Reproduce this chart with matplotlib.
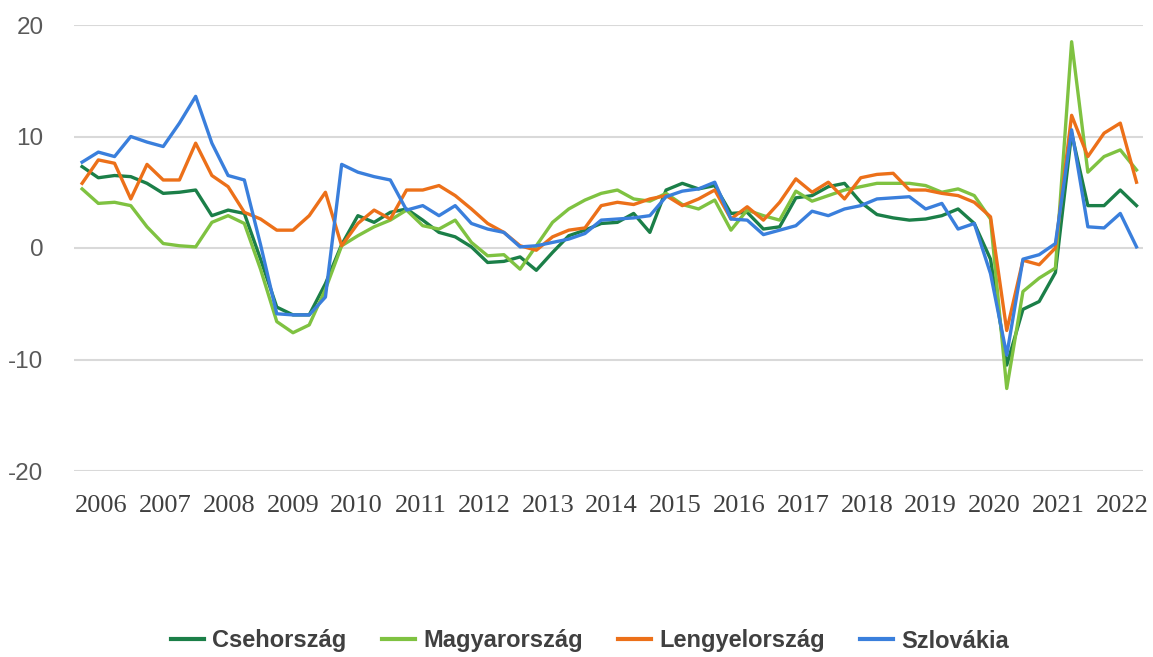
import matplotlib
matplotlib.use("Agg")
import matplotlib.pyplot as plt
import numpy as np

# Quarterly data 2006Q1 .. 2022Q2
quarters = [f"{y}Q{q}" for y in range(2006, 2023) for q in range(1, 5)][:66]

csehorszag = [7.3, 6.3, 6.5, 6.4, 5.8, 4.9, 5.0, 5.2, 2.9, 3.4, 3.1, -1.0, -5.3, -6.0, -6.0, -3.2,
              0.3, 2.9, 2.3, 3.2, 3.5, 2.5, 1.4, 1.0, 0.1, -1.3, -1.2, -0.8, -2.0, -0.4, 1.1, 1.6,
              2.2, 2.3, 3.1, 1.4, 5.2, 5.8, 5.3, 5.6, 3.1, 3.2, 1.7, 1.9, 4.5, 4.7, 5.5, 5.8,
              4.1, 3.0, 2.7, 2.5, 2.6, 2.9, 3.5, 2.2, -1.0, -10.5, -5.5, -4.8, -2.2, 10.3, 3.8, 3.8,
              5.2, 3.8]
magyarorszag = [5.3, 4.0, 4.1, 3.8, 1.9, 0.4, 0.2, 0.1, 2.3, 2.9, 2.2, -1.9, -6.6, -7.6, -6.9, -3.7,
                0.2, 1.1, 1.9, 2.5, 3.4, 2.0, 1.7, 2.5, 0.5, -0.7, -0.6, -1.9, 0.2, 2.3, 3.5, 4.3,
                4.9, 5.2, 4.4, 4.2, 4.9, 3.9, 3.5, 4.3, 1.6, 3.4, 2.9, 2.5, 5.1, 4.2, 4.7, 5.2,
                5.5, 5.8, 5.8, 5.8, 5.6, 5.0, 5.3, 4.7, 2.6, -12.6, -3.9, -2.7, -1.8, 18.5, 6.8, 8.2,
                8.8, 7.0]
lengyelorszag = [5.8, 7.9, 7.6, 4.4, 7.5, 6.1, 6.1, 9.4, 6.5, 5.5, 3.2, 2.6, 1.6, 1.6, 2.9, 5.0,
                 0.2, 2.2, 3.4, 2.6, 5.2, 5.2, 5.6, 4.7, 3.5, 2.2, 1.4, 0.2, -0.2, 1.0, 1.6, 1.8,
                 3.8, 4.1, 3.9, 4.4, 4.7, 3.8, 4.4, 5.2, 2.6, 3.7, 2.5, 4.1, 6.2, 5.0, 5.9, 4.4,
                 6.3, 6.6, 6.7, 5.2, 5.2, 4.9, 4.7, 4.1, 2.8, -7.4, -1.1, -1.5, 0.0, 11.9, 8.2, 10.3,
                 11.2, 5.9]
szlovakia = [7.7, 8.6, 8.2, 10.0, 9.5, 9.1, 11.2, 13.6, 9.4, 6.5, 6.1, 0.3, -5.9, -6.0, -6.0, -4.4,
             7.5, 6.8, 6.4, 6.1, 3.4, 3.8, 2.9, 3.8, 2.2, 1.7, 1.4, 0.1, 0.2, 0.5, 0.8, 1.3,
             2.5, 2.6, 2.7, 2.9, 4.6, 5.1, 5.3, 5.9, 2.6, 2.5, 1.2, 1.6, 2.0, 3.3, 2.9, 3.5,
             3.8, 4.4, 4.5, 4.6, 3.5, 4.0, 1.7, 2.2, -2.3, -9.6, -1.0, -0.6, 0.4, 10.6, 1.9, 1.8,
             3.1, 0.1]

series_names = ["Csehország", "Magyarország", "Lengyelország", "Szlovákia"]
series_colors = ["#1b7f48", "#7fc241", "#ec7019", "#3a7fdc"]
year_labels = [str(y) for y in range(2006, 2023)]
y_ticks = [-20, -10, 0, 10, 20]
y_tick_labels = ["-20", "-10", "0", "10", "20"]

W, H = 1153, 657
fig = plt.figure(figsize=(W / 100, H / 100), dpi=100)
ax = fig.add_axes([74 / W, 1 - 471 / H, (1143 - 74) / W, (471 - 25) / H])

x = np.arange(len(quarters))
for vals, name, col in zip([csehorszag, magyarorszag, lengyelorszag, szlovakia], series_names, series_colors):
    ax.plot(x, vals, color=col, lw=2.4, label=name, solid_joinstyle="round")

ax.set_xlim(-0.5, 65.4)
ax.set_ylim(-20, 20)
ax.set_yticks(y_ticks)
ax.set_yticklabels(y_tick_labels, fontsize=17.5, color="#595959", family=["Liberation Sans", "DejaVu Sans"])
ax.yaxis.grid(True, color="#d9d9d9", lw=1.5)
ax.set_axisbelow(True)
ax.tick_params(axis="y", length=0, pad=22)

ax.set_xticks(np.linspace(1.2, 64.1, len(year_labels)))
ax.set_xticklabels(year_labels, fontsize=19, color="#404040", family=["Liberation Serif", "DejaVu Serif"])
ax.tick_params(axis="x", length=0, pad=17)

for s in ax.spines.values():
    s.set_visible(False)

leg = fig.legend(loc="center", bbox_to_anchor=(590 / W, 1 - 641 / H), ncol=4, frameon=False,
                 prop={"family": ["Liberation Sans", "DejaVu Sans"], "weight": "bold", "size": 17},
                 handlelength=1.4, handletextpad=0.35, columnspacing=1.5)
for t in leg.get_texts():
    t.set_color("#404040")
for l in leg.get_lines():
    l.set_linewidth(3)

fig.savefig("out.png", dpi=100)
